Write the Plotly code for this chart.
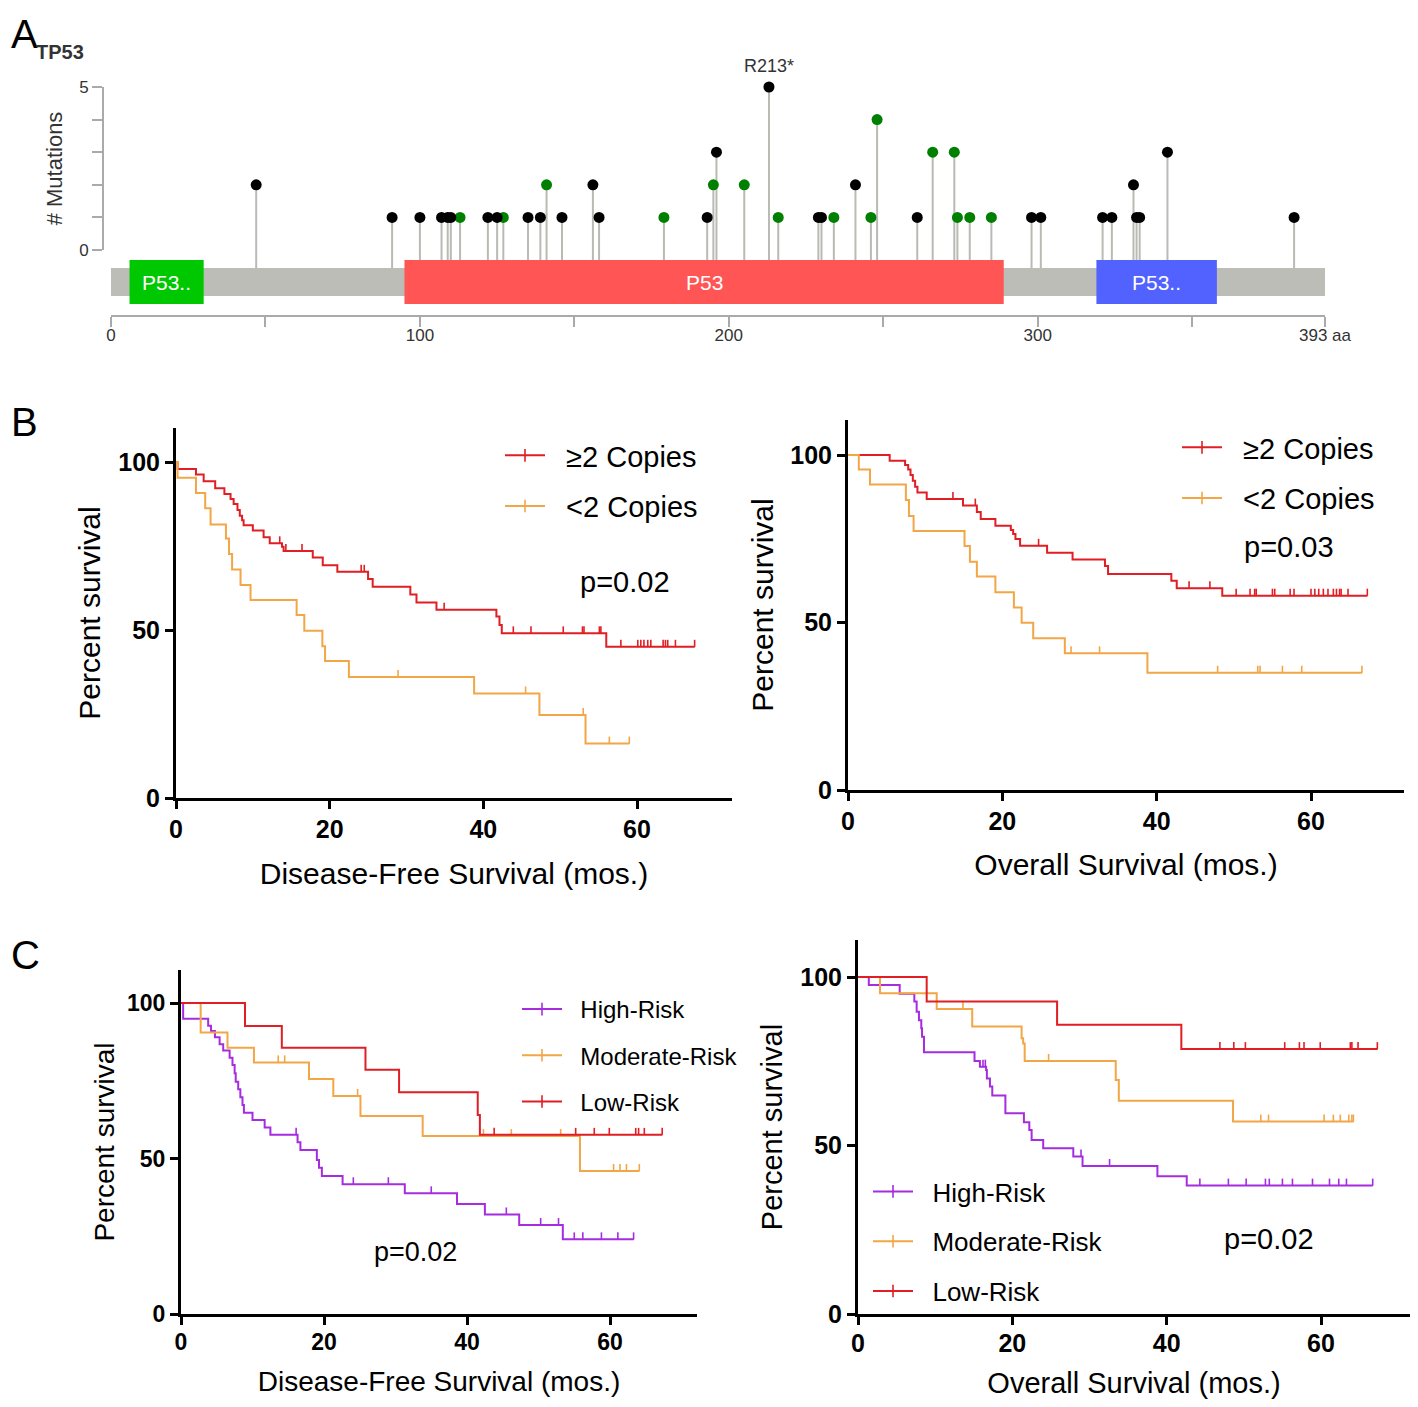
import plotly.graph_objects as go

W, H = 1418, 1407          # reference canvas
OFF = 8                    # default page margin of the HTML body
FW, FH = W - 2 * OFF, H - 2 * OFF   # figure size that fits the window without scrolling
FONT = "Arial, Liberation Sans, sans-serif"

# ---------------- Panel A data (TP53 lollipop) ----------------
protein_length = 393
domain_names = ["P53..", "P53", "P53.."]
domain_start = [6, 95, 319]
domain_end = [30, 289, 358]
domain_colors = ["#00c800", "#ff5555", "#5262ff"]

mut_pos = [47, 91, 100, 107, 109, 110, 113, 122, 125, 127, 135, 139, 141, 146, 156, 158,
           179, 193, 195, 196, 205, 213, 216, 229, 230, 234, 241, 246, 248, 261, 266, 273,
           274, 278, 285, 298, 301, 321, 324, 331, 332, 333, 342, 383]
mut_count = [2, 1, 1, 1, 1, 1, 1, 1, 1, 1, 1, 1, 2, 1, 2, 1,
             1, 1, 2, 3, 2, 5, 1, 1, 1, 1, 2, 1, 4, 1, 3, 3,
             1, 1, 1, 1, 1, 1, 1, 2, 1, 1, 3, 1]
mut_class = ["t", "t", "t", "t", "t", "t", "m", "t", "t", "m", "t", "t", "m", "t", "t", "t",
             "m", "t", "m", "t", "m", "t", "m", "t", "t", "m", "t", "m", "m", "t", "m", "m",
             "m", "m", "m", "t", "t", "t", "t", "t", "t", "t", "t", "t"]
hotspot_label = "R213*"
hotspot_pos = 213
hotspot_count = 5
a_xtick_vals = [0, 50, 100, 150, 200, 250, 300, 350, 393]
a_xtick_text = ["0", "", "100", "", "200", "", "300", "", "393 aa"]

# ---------------- Panel B data (copy number) ----------------
b_dfs_hi_t = [0.2, 2.6, 3.6, 5.1, 6.3, 7.1, 7.5, 8.0, 8.3, 8.6, 8.8, 10.0, 11.4, 12.2, 13.8, 14.0,
              17.8, 19.1, 21.0, 25.0, 25.6, 30.5, 31.3, 33.9, 41.7, 42.1, 42.4, 56.0]
b_dfs_hi_s = [97.9, 96.3, 94.3, 92.2, 90.5, 89.0, 87.5, 85.7, 84.0, 82.7, 81.2, 79.6, 77.6, 75.8, 74.8, 73.5,
              71.6, 69.3, 67.3, 65.2, 62.9, 60.6, 58.2, 56.0, 54.0, 51.5, 49.0, 45.0]
b_dfs_hi_c = [13.5, 14.3, 16.4, 24.1, 24.5, 34.9, 43.9, 46.2, 50.4, 52.9, 53.1, 55.1, 55.3, 57.9,
              60.1, 60.5, 60.9, 61.4, 61.8, 63.4, 63.7, 64.0, 65.0, 67.5]
b_dfs_lo_t = [0.2, 2.6, 3.8, 4.5, 6.5, 6.9, 7.3, 8.4, 9.7, 15.7, 16.7, 19.05, 19.4, 22.5, 38.8, 47.3, 53.3]
b_dfs_lo_s = [95.3, 90.8, 86.2, 81.4, 77.2, 72.6, 68.0, 63.4, 58.9, 54.5, 49.8, 45.2, 40.8, 36.0, 31.1, 24.7, 16.2]
b_dfs_lo_c = [28.9, 45.5, 53.0, 56.4, 59.0]

b_os_hi_t = [5.4, 7.4, 7.8, 8.1, 8.4, 8.7, 9.0, 10.2, 14.9, 16.7, 17.2, 19.1, 21.1, 21.4, 21.7, 22.3,
             25.8, 29.1, 33.3, 33.7, 41.9, 42.6, 48.5]
b_os_hi_s = [98.3, 97.0, 95.7, 94.0, 92.3, 90.5, 88.8, 86.9, 84.9, 83.0, 80.9, 78.9, 77.6, 76.4, 74.9, 72.9,
             70.8, 68.8, 66.9, 64.5, 62.5, 60.2, 58.0]
b_os_hi_c = [13.6, 16.5, 24.7, 44.2, 46.9, 50.3, 52.1, 52.7, 52.9, 55.0, 55.3, 57.3, 57.8, 60.0, 60.5,
             61.0, 61.6, 62.2, 62.9, 63.3, 63.7, 63.9, 64.8, 67.3]
b_os_lo_t = [1.4, 2.85, 7.5, 7.9, 8.5, 15.1, 15.8, 16.7, 19.1, 21.5, 22.5, 24.0, 28.1, 38.8]
b_os_lo_s = [95.7, 91.2, 86.6, 81.8, 77.3, 72.8, 68.1, 63.7, 59.0, 54.5, 49.9, 45.3, 40.8, 35.0]
b_os_lo_c = [28.9, 32.6, 47.9, 53.1, 53.4, 56.3, 58.8, 66.6]

b_groups = ["\u22652 Copies", "<2 Copies"]
b_p_dfs = "p=0.02"
b_p_os = "p=0.03"

# ---------------- Panel C data (risk groups) ----------------
c_dfs_low_t = [8.95, 14.1, 25.8, 30.5, 41.5, 41.8]
c_dfs_low_s = [92.6, 85.6, 78.5, 71.3, 64.0, 57.6]
c_dfs_low_c = [43.8, 55.2, 57.8, 59.9, 63.6, 64.0, 64.8, 67.3]
c_dfs_mod_t = [2.75, 6.5, 10.2, 17.9, 21.3, 25.1, 33.8, 55.8]
c_dfs_mod_s = [90.5, 85.6, 80.9, 75.6, 70.1, 63.7, 57.2, 46.0]
c_dfs_mod_c = [13.6, 14.5, 24.7, 42.3, 46.2, 53.1, 60.5, 61.4, 62.3, 64.1]
c_dfs_high_t = [0.3, 3.8, 4.2, 4.75, 5.4, 5.9, 6.8, 7.2, 7.5, 7.65, 8.0, 8.3, 8.6, 8.8, 10.0, 11.7, 12.5,
                16.3, 16.7, 19.0, 19.3, 19.7, 22.6, 31.3, 38.6, 42.5, 47.3, 53.4]
c_dfs_high_s = [94.9, 92.7, 91.0, 89.0, 86.7, 84.7, 82.4, 80.1, 77.4, 74.7, 72.3, 69.7, 67.2, 64.7, 62.4, 60.0, 57.6,
                55.2, 52.7, 49.5, 47.0, 44.4, 41.7, 38.8, 35.4, 32.0, 28.6, 24.0]
c_dfs_high_c = [16.1, 24.1, 29.0, 35.0, 45.5, 50.3, 52.8, 55.0, 56.2, 58.8, 61.1, 63.3]

c_os_low_t = [8.9, 25.8, 41.9]
c_os_low_s = [92.7, 85.8, 78.6]
c_os_low_c = [46.9, 48.7, 50.2, 55.3, 57.2, 57.8, 59.9, 63.8, 64.0, 64.8, 67.3]
c_os_mod_t = [2.85, 10.2, 14.8, 21.2, 21.4, 21.6, 33.4, 33.8, 48.6]
c_os_mod_s = [95.2, 90.5, 85.3, 81.8, 80.3, 75.1, 69.4, 63.3, 57.1]
c_os_mod_c = [13.6, 24.7, 52.2, 53.2, 60.4, 61.6, 62.5, 63.6, 64.0, 64.2]
c_os_high_t = [1.4, 5.4, 7.3, 7.6, 7.9, 8.2, 8.3, 8.55, 15.1, 15.8, 16.6, 16.7, 17.1, 17.4, 19.1, 21.5,
               22.2, 22.5, 24.0, 27.9, 29.1, 38.8, 42.6]
c_os_high_s = [97.6, 95.0, 92.7, 89.7, 87.2, 84.8, 82.3, 77.7, 75.1, 73.4, 72.4, 69.9, 67.5, 64.8, 59.6, 56.9,
               54.6, 51.6, 49.2, 46.7, 43.9, 40.9, 38.1]
c_os_high_c = [16.2, 16.5, 28.9, 32.6, 44.3, 48.0, 50.3, 52.8, 53.3, 55.0, 56.3, 58.9, 61.1, 62.3, 63.3, 66.7]

c_groups = ["High-Risk", "Moderate-Risk", "Low-Risk"]
c_p_dfs = "p=0.02"
c_p_os = "p=0.02"

km_xticks = [0, 20, 40, 60]
km_yticks = [0, 50, 100]

# ---------------- styling ----------------
RED = "rgb(224,30,36)"
ORANGE = "rgb(242,166,70)"
PURPLE = "rgb(166,44,224)"
STEM = "#b9bab4"
BACKBONE = "#bbbdb6"
NB = "\u00a0\u00a0"   # gap between legend line and label


def fx(px):
    return (px - OFF) / FW


def fy(py):
    return 1 - (py - OFF) / FH


fig = go.Figure()

# ---------- Panel A ----------
A_PPU = 32.6          # px per mutation count
A_ZERO = 250          # py of count 0
A_BOTTOM, A_TOP = 315, 60
bb_top, bb_bot = -(268 - A_ZERO) / A_PPU, -(296 - A_ZERO) / A_PPU
dm_top, dm_bot = -(260 - A_ZERO) / A_PPU, -(304 - A_ZERO) / A_PPU

stem_x, stem_y = [], []
for p, c in zip(mut_pos, mut_count):
    stem_x += [p, p, None]
    stem_y += [bb_top, c, None]
fig.add_trace(go.Scatter(x=stem_x, y=stem_y, mode="lines", line=dict(color=STEM, width=2),
                         xaxis="x", yaxis="y", showlegend=False, hoverinfo="skip"))
for cls, col in [("m", "#008000"), ("t", "#000000")]:
    xs = [p for p, k in zip(mut_pos, mut_class) if k == cls]
    ys = [c for c, k in zip(mut_count, mut_class) if k == cls]
    fig.add_trace(go.Scatter(x=xs, y=ys, mode="markers", marker=dict(color=col, size=11),
                             xaxis="x", yaxis="y2", showlegend=False, cliponaxis=False))

shapes = [dict(type="rect", xref="x", yref="y", x0=0, x1=protein_length, y0=bb_bot, y1=bb_top,
               fillcolor=BACKBONE, line=dict(width=0), layer="above")]
annotations = []
for nm, s, e, col in zip(domain_names, domain_start, domain_end, domain_colors):
    shapes.append(dict(type="rect", xref="x", yref="y", x0=s, x1=e, y0=dm_bot, y1=dm_top,
                       fillcolor=col, line=dict(width=0), layer="above"))
    annotations.append(dict(x=(s + e) / 2, y=(dm_top + dm_bot) / 2, xref="x", yref="y", text=nm,
                            showarrow=False, font=dict(family=FONT, size=21, color="white")))
annotations.append(dict(x=hotspot_pos, y=hotspot_count, xref="x", yref="y2", text=hotspot_label,
                        showarrow=False, yshift=21, font=dict(family=FONT, size=18, color="#333")))

fig.update_layout(
    xaxis=dict(domain=[fx(111), fx(1325)], range=[0, protein_length], anchor="y",
               tickvals=a_xtick_vals, ticktext=a_xtick_text, ticks="outside", ticklen=10,
               tickwidth=2, tickcolor="#aaaaaa", showline=True, linecolor="#aaaaaa", linewidth=2,
               showgrid=False, zeroline=False, ticklabelstandoff=-6,
               tickfont=dict(family=FONT, size=17, color="#333")),
    yaxis=dict(domain=[fy(A_BOTTOM), fy(A_TOP)],
               range=[-(A_BOTTOM - A_ZERO) / A_PPU, (A_ZERO - A_TOP) / A_PPU],
               visible=False, anchor="x"),
    yaxis2=dict(domain=[fy(A_ZERO), fy(A_ZERO - 5 * A_PPU)], range=[0, 5], anchor="free",
                position=fx(103), tickvals=[0, 1, 2, 3, 4, 5], ticktext=["0", "", "", "", "", "5"],
                ticks="outside", ticklen=10, tickwidth=2, tickcolor="#aaaaaa", showline=True,
                linecolor="#aaaaaa", linewidth=2, showgrid=False, zeroline=False,
                tickfont=dict(family=FONT, size=17, color="#333"),
                title=dict(text="# Mutations", font=dict(family=FONT, size=22, color="#333"), standoff=9)),
)


# ---------- KM panels ----------
def surv_at(times, surv, t):
    v = 100.0
    for ti, si in zip(times, surv):
        if ti <= t:
            v = si
    return v


def add_km(times, surv, cens, color, xa, ya, ppu_y, name, legend):
    t_end = max(cens) if cens else times[-1]
    xs = [0] + list(times) + [t_end]
    ys = [100] + list(surv) + [surv[-1]]
    fig.add_trace(go.Scatter(x=xs, y=ys, mode="lines", line=dict(color=color, width=2, shape="hv"),
                             xaxis=xa, yaxis=ya, showlegend=False, hoverinfo="skip"))
    tick_h = 7 / ppu_y
    fig.add_trace(go.Scatter(x=cens, y=[surv_at(times, surv, c) for c in cens], mode="markers",
                             marker=dict(size=1, color=color),
                             error_y=dict(type="data", symmetric=False, array=[tick_h] * len(cens),
                                          arrayminus=[0] * len(cens), width=0, thickness=1.6, color=color),
                             xaxis=xa, yaxis=ya, showlegend=False, hoverinfo="skip"))
    fig.add_trace(go.Scatter(x=[None], y=[None], mode="lines+markers", name=NB + name,
                             line=dict(color=color, width=2),
                             marker=dict(symbol="line-ns-open", size=9, line=dict(color=color, width=1.6)),
                             xaxis=xa, yaxis=ya, legend=legend, legendgroup=legend + name))


def km_axes(n, x0, x60, xr_px, y0, y100, ytop_px, tick_size, title_size, xtitle, xstand, ystand, xlab_shift):
    ppx = (x60 - x0) / 60.0
    ppy = (y0 - y100) / 100.0
    xmax = (xr_px - x0) / ppx
    ymax = (y0 - ytop_px) / ppy
    common = dict(showline=True, linecolor="black", linewidth=3, ticks="outside", ticklen=8,
                  tickwidth=3, tickcolor="black", showgrid=False, zeroline=False, automargin=False,
                  tickfont=dict(family=FONT, size=tick_size, color="black", weight="bold"))
    fig.update_layout(**{
        f"xaxis{n}": dict(domain=[fx(x0), min(1.0, fx(xr_px))], range=[0, xmax], anchor=f"y{n}",
                          tickvals=km_xticks, ticklabelstandoff=xlab_shift,
                          title=dict(text=xtitle, font=dict(family=FONT, size=title_size, color="black"),
                                     standoff=xstand), **common),
        f"yaxis{n}": dict(domain=[fy(y0), fy(ytop_px)], range=[0, ymax], anchor=f"x{n}",
                          tickvals=km_yticks,
                          title=dict(text="Percent survival", font=dict(family=FONT, size=title_size, color="black"),
                                     standoff=ystand), **common),
    })
    return ppy


ppy3 = km_axes(3, 176, 637, 732, 798, 462, 428, 25, 30, "Disease-Free Survival (mos.)", 21, 9, -1)
ppy4 = km_axes(4, 848, 1311, 1404, 790, 455, 420, 25, 30, "Overall Survival (mos.)", 20, 8, -1)
ppy5 = km_axes(5, 181, 610, 697, 1314, 1003, 970, 23, 28, "Disease-Free Survival (mos.)", 18, 5, -3)
ppy6 = km_axes(6, 858, 1321, 1410, 1314, 977, 940, 25, 29, "Overall Survival (mos.)", 22, 10, -3)

add_km(b_dfs_hi_t, b_dfs_hi_s, b_dfs_hi_c, RED, "x3", "y3", ppy3, b_groups[0], "legend")
add_km(b_dfs_lo_t, b_dfs_lo_s, b_dfs_lo_c, ORANGE, "x3", "y3", ppy3, b_groups[1], "legend")
add_km(b_os_hi_t, b_os_hi_s, b_os_hi_c, RED, "x4", "y4", ppy4, b_groups[0], "legend2")
add_km(b_os_lo_t, b_os_lo_s, b_os_lo_c, ORANGE, "x4", "y4", ppy4, b_groups[1], "legend2")
add_km(c_dfs_high_t, c_dfs_high_s, c_dfs_high_c, PURPLE, "x5", "y5", ppy5, c_groups[0], "legend3")
add_km(c_dfs_mod_t, c_dfs_mod_s, c_dfs_mod_c, ORANGE, "x5", "y5", ppy5, c_groups[1], "legend3")
add_km(c_dfs_low_t, c_dfs_low_s, c_dfs_low_c, RED, "x5", "y5", ppy5, c_groups[2], "legend3")
add_km(c_os_high_t, c_os_high_s, c_os_high_c, PURPLE, "x6", "y6", ppy6, c_groups[0], "legend4")
add_km(c_os_mod_t, c_os_mod_s, c_os_mod_c, ORANGE, "x6", "y6", ppy6, c_groups[1], "legend4")
add_km(c_os_low_t, c_os_low_s, c_os_low_c, RED, "x6", "y6", ppy6, c_groups[2], "legend4")


def legend_cfg(px, py, size, gap):
    return dict(x=fx(px), y=fy(py), xanchor="left", yanchor="top", bgcolor="rgba(0,0,0,0)",
                font=dict(family=FONT, size=size, color="black"), itemwidth=40,
                tracegroupgap=gap, traceorder="grouped")


fig.update_layout(
    legend=legend_cfg(500, 430, 29, 10),
    legend2=legend_cfg(1177, 422, 29, 10),
    legend3=legend_cfg(517, 987, 24, 12),
    legend4=legend_cfg(868, 1168, 26, 13),
)


def txt(px, py, text, size, bold=False, color="black", xanchor="center"):
    annotations.append(dict(x=fx(px), y=fy(py), xref="paper", yref="paper", text=text, showarrow=False,
                            xanchor=xanchor, yanchor="middle",
                            font=dict(family=FONT, size=size, color=color, weight="bold" if bold else "normal")))


txt(625, 582, b_p_dfs, 29)
txt(1289, 547, b_p_os, 29)
txt(415, 1252, c_p_dfs, 27)
txt(1269, 1239, c_p_os, 29)
txt(OFF + 1, 34, "A", 40, xanchor="left")
txt(OFF + 1, 422, "B", 40, xanchor="left")
txt(OFF + 1, 955, "C", 40, xanchor="left")
txt(60, 52, "TP53", 20, bold=True, color="#333")

fig.update_layout(width=FW, height=FH, autosize=False,
                  margin=dict(l=0, r=0, t=0, b=0, pad=0, autoexpand=False),
                  plot_bgcolor="rgba(0,0,0,0)", paper_bgcolor="white", shapes=shapes,
                  annotations=annotations, font=dict(family=FONT))

fig.write_html("out.html", config={"displayModeBar": False})
